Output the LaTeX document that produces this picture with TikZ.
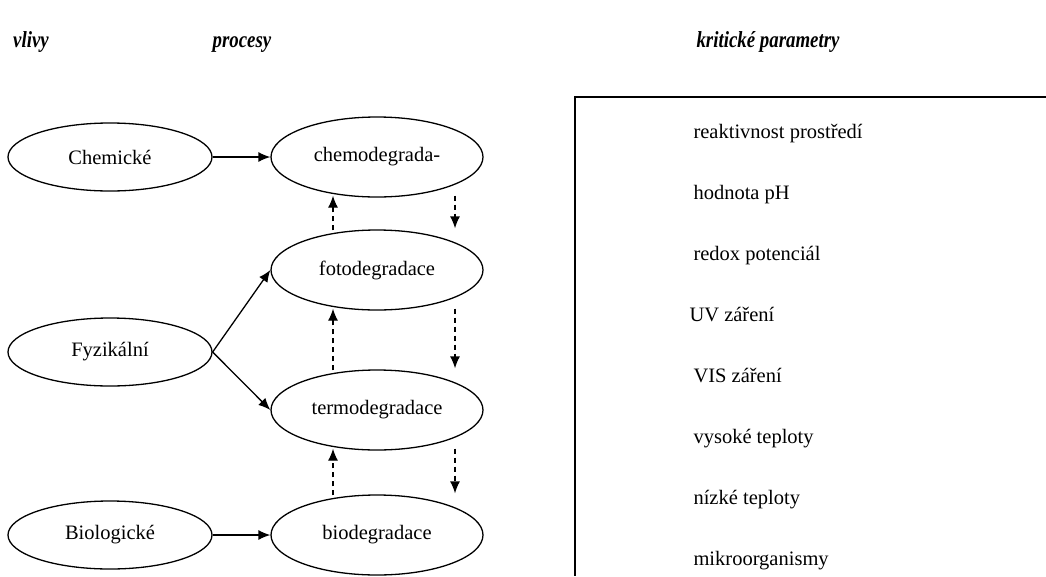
\documentclass[tikz,border=0pt]{standalone}
\usepackage{fontspec}
\setmainfont{Liberation Serif}
\usetikzlibrary{arrows.meta}
\usetikzlibrary{calc,shapes.geometric}

\begin{document}
\begin{tikzpicture}[x=1pt, y=-1pt,
  every node/.style={font=\fontsize{20.5}{24}\selectfont},
  vliv/.style={ellipse, draw, line width=1.3pt, minimum width=204pt, minimum height=68pt, inner sep=0pt},
  proces/.style={ellipse, draw, line width=1.3pt, minimum width=212pt, minimum height=80pt, inner sep=0pt},
  hlava/.style={anchor=base, font=\fontsize{23}{26}\selectfont\bfseries\itshape},
  param/.style={anchor=base west},
  sipka/.style={line width=1.3pt, -{Latex[length=12pt,width=10pt]}},
  carka/.style={sipka, dash pattern=on 5pt off 4pt}]
\useasboundingbox (0,0) rectangle (1046,576);
% nadpisy
\node[hlava] (h1) at (31,47) {\scalebox{.82}[1]{vlivy}};
\node[hlava] (h2) at (242,47) {\scalebox{.82}[1]{procesy}};
\node[hlava] (h3) at (768,47) {\scalebox{.82}[1]{kritické parametry}};
% vlivy
\node[vliv] (chem) at (110,157) {Chemické};
\node[vliv] (fyz) at (110,352) {Fyzikální};
\node[vliv] (biol) at (110,535) {Biologické};
% procesy
\node[proces] (chemo) at (377,157) {chemodegrada-};
\node[proces] (foto) at (377,270) {fotodegradace};
\node[proces] (termo) at (377,410) {termodegradace};
\node[proces] (bio) at (377,535) {biodegradace};
\draw[sipka] (chem.east) -- (chemo.west);
\draw[sipka] (fyz.east) -- (foto.west);
\draw[sipka] (fyz.east) -- (termo.west);
\draw[sipka] (biol.east) -- (bio.west);
\foreach \hor/\dol in {chemo/foto, foto/termo, termo/bio} {
 \draw[carka] ($(\dol.north)+(-44,1)$) -- ($(\hor.south)+(-44,-2)$);
 \draw[carka] ($(\hor.south)+(78,-2)$) -- ($(\dol.north)+(78,-1)$);
}
% kriticke parametry
\draw[line width=1.3pt] (1046,97) -- (575,97) -- (575,576);
\foreach \txt/\y/\dx in {reaktivnost prostředí/138/0, hodnota pH/199/0, redox potenciál/260/0,
  UV záření/321/-4, VIS záření/382/0, vysoké teploty/443/0, nízké teploty/504/0, mikroorganismy/565/0} {
 \node[param] at (690+\dx,\y) {\txt};
}
\end{tikzpicture}
\end{document}
